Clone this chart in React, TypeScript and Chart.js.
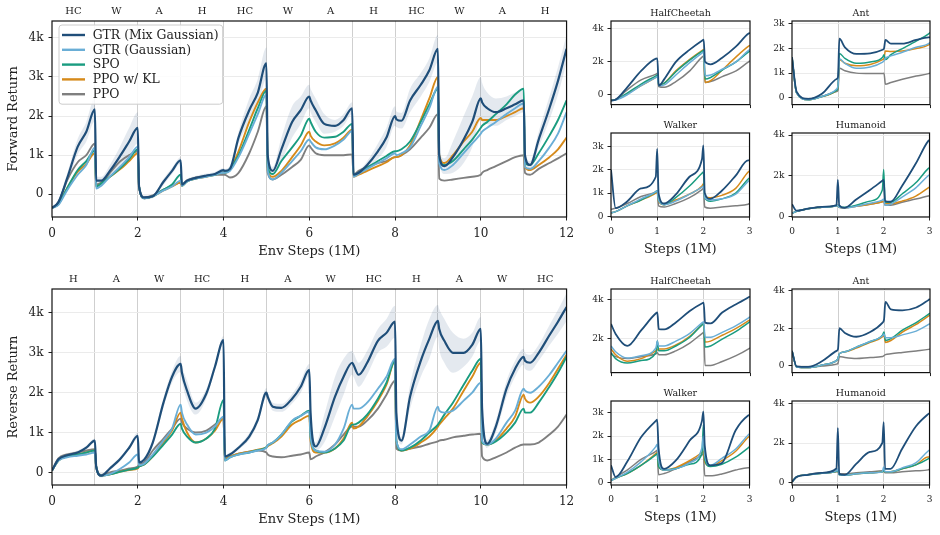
import React, { useEffect, useRef } from 'react';
import { Chart, registerables } from 'chart.js';

Chart.register(...registerables);

const FONT = "'DejaVu Serif', serif";
const INK = '#222222';

const SERIES_NAMES = ['GTR (Mix Gaussian)', 'GTR (Gaussian)', 'SPO', 'PPO w/ KL', 'PPO'];
const SERIES_COLORS = ['#1f4e79', '#6aaed6', '#1a9c80', '#d68a1a', '#7f7f7f'];
const MIX_BAND = 'rgba(31,78,121,0.12)';

const FWD_TASKS = ['HC', 'W', 'A', 'H', 'HC', 'W', 'A', 'H', 'HC', 'W', 'A', 'H'];
const REV_TASKS = ['H', 'A', 'W', 'HC', 'H', 'A', 'W', 'HC', 'H', 'A', 'W', 'HC'];

// Sample positions (millions of env steps) for the 12-task sequences
const LONG_X = [
  0, 0.15, 0.35, 0.6, 0.8, 1,
  1.03, 1.15, 1.35, 1.6, 1.8, 2,
  2.03, 2.15, 2.35, 2.6, 2.8, 3,
  3.03, 3.15, 3.35, 3.6, 3.8, 4,
  4.03, 4.15, 4.35, 4.6, 4.8, 5,
  5.03, 5.15, 5.35, 5.6, 5.8, 6,
  6.03, 6.15, 6.35, 6.6, 6.8, 7,
  7.03, 7.15, 7.35, 7.6, 7.8, 8,
  8.03, 8.15, 8.35, 8.6, 8.8, 9,
  9.03, 9.15, 9.35, 9.6, 9.8, 10,
  10.03, 10.15, 10.35, 10.6, 10.8, 11,
  11.03, 11.15, 11.35, 11.6, 11.8, 12,
];

// Sample positions for the 3-stage per-environment runs
const SHORT_X = [0, 0.1, 0.35, 0.65, 0.97, 1, 1.03, 1.15, 1.4, 1.7, 1.97, 2, 2.03, 2.15, 2.4, 2.7, 2.97, 3];

// ---- Forward sequence (returns in thousands) ----
const FWD_MIX = [
  -0.35, -0.2, 0.4, 1.22, 1.6, 2.17,
  0.35, 0.35, 0.6, 1.0, 1.35, 1.7,
  0.2, -0.08, -0.05, 0.32, 0.6, 0.87,
  0.25, 0.35, 0.42, 0.48, 0.52, 0.62,
  0.6, 0.65, 1.45, 2.15, 2.6, 3.35,
  1.0, 0.6, 1.15, 1.85, 2.15, 2.5,
  2.4, 2.15, 1.8, 1.75, 1.9, 2.2,
  0.5, 0.55, 0.75, 1.1, 1.45, 2.0,
  1.92, 1.88, 2.4, 2.8, 3.17, 3.72,
  1.0, 0.72, 0.95, 1.4, 1.85, 2.45,
  2.35, 2.2, 2.1, 2.2, 2.3, 2.4,
  1.0, 0.75, 1.4, 2.2, 2.9, 3.72,
];
const FWD_GAUSS = [
  -0.35, -0.27, 0.1, 0.5, 0.75, 1.2,
  0.15, 0.22, 0.45, 0.72, 0.95, 1.22,
  0.2, -0.1, -0.05, 0.1, 0.2, 0.35,
  0.22, 0.33, 0.4, 0.45, 0.5, 0.55,
  0.55, 0.6, 0.95, 1.55, 2.05, 2.55,
  0.6, 0.38, 0.55, 0.85, 1.1, 1.4,
  1.35, 1.2, 1.15, 1.25, 1.4, 1.62,
  0.45, 0.52, 0.65, 0.8, 0.92, 1.05,
  1.0, 1.05, 1.2, 1.75, 2.2, 2.75,
  0.8, 0.62, 0.75, 1.05, 1.3, 1.55,
  1.6, 1.7, 1.85, 2.05, 2.2, 2.32,
  0.7, 0.65, 0.85, 1.2, 1.55, 2.1,
];
const FWD_SPO = [
  -0.35, -0.25, 0.15, 0.62, 0.85, 1.12,
  0.2, 0.28, 0.45, 0.68, 0.9, 1.15,
  0.2, -0.1, -0.05, 0.12, 0.25, 0.5,
  0.22, 0.33, 0.4, 0.46, 0.5, 0.56,
  0.55, 0.65, 1.0, 1.65, 2.2, 2.65,
  0.7, 0.52, 0.85, 1.2, 1.5, 1.93,
  1.85, 1.6, 1.45, 1.47, 1.6, 1.8,
  0.48, 0.55, 0.68, 0.85, 0.98, 1.1,
  1.1, 1.15, 1.35, 1.85, 2.3, 2.7,
  0.9, 0.75, 0.85, 1.15, 1.4, 1.7,
  1.75, 1.85, 2.05, 2.3, 2.55, 2.7,
  0.8, 0.75, 1.05, 1.5, 1.9, 2.4,
];
const FWD_KL = [
  -0.35, -0.25, 0.15, 0.58, 0.78, 1.05,
  0.2, 0.28, 0.45, 0.65, 0.85, 1.05,
  0.2, -0.1, -0.05, 0.1, 0.2, 0.3,
  0.22, 0.33, 0.4, 0.45, 0.5, 0.55,
  0.55, 0.62, 1.1, 1.85, 2.35, 2.7,
  0.6, 0.45, 0.6, 0.95, 1.25, 1.6,
  1.5, 1.35, 1.25, 1.3, 1.45, 1.65,
  0.45, 0.5, 0.6, 0.72, 0.82, 0.95,
  0.95, 1.0, 1.25, 1.9, 2.45, 3.0,
  1.0, 0.8, 1.0, 1.35, 1.6, 1.95,
  1.9, 1.9, 1.9, 2.0, 2.1, 2.2,
  0.7, 0.62, 0.75, 0.95, 1.15, 1.45,
];
const FWD_PPO = [
  -0.35, -0.2, 0.35, 0.82, 1.0, 1.3,
  0.25, 0.3, 0.55, 0.85, 1.0, 1.1,
  0.2, -0.08, -0.03, 0.12, 0.22, 0.3,
  0.25, 0.36, 0.43, 0.47, 0.5, 0.5,
  0.5, 0.43, 0.55, 1.05, 1.6, 2.25,
  0.55, 0.38, 0.5, 0.7, 0.88, 1.25,
  1.2, 1.05, 1.0, 1.0, 1.0, 1.02,
  0.5, 0.6, 0.7, 0.8, 0.85, 0.95,
  0.95, 1.0, 1.15, 1.45, 1.7, 2.05,
  0.4, 0.35, 0.38, 0.42, 0.45, 0.5,
  0.55, 0.62, 0.72, 0.85, 0.95, 1.0,
  0.55, 0.5, 0.65, 0.8, 0.92, 1.05,
];
const FWD_MIX_SPREAD = [
  0.02, 0.05, 0.12, 0.2, 0.25, 0.3,
  0.1, 0.1, 0.15, 0.25, 0.35, 0.4,
  0.05, 0.05, 0.05, 0.08, 0.08, 0.08,
  0.05, 0.05, 0.05, 0.05, 0.05, 0.05,
  0.05, 0.08, 0.15, 0.3, 0.35, 0.4,
  0.15, 0.1, 0.3, 0.4, 0.35, 0.3,
  0.3, 0.3, 0.25, 0.15, 0.15, 0.15,
  0.05, 0.05, 0.1, 0.2, 0.25, 0.25,
  0.2, 0.2, 0.3, 0.3, 0.3, 0.35,
  0.15, 0.2, 0.4, 0.6, 0.65, 0.55,
  0.5, 0.4, 0.35, 0.3, 0.3, 0.3,
  0.1, 0.1, 0.2, 0.3, 0.35, 0.35,
];

// ---- Reverse sequence (returns in thousands) ----
const REV_MIX = [
  0.05, 0.33, 0.43, 0.5, 0.62, 0.8,
  0.15, -0.08, 0.1, 0.35, 0.62, 0.92,
  0.25, 0.32, 0.75, 1.75, 2.4, 2.72,
  2.5, 2.05, 1.6, 1.98, 2.65, 3.32,
  0.4, 0.45, 0.62, 0.9, 1.32, 2.0,
  1.9, 1.65, 1.62, 1.85, 2.15, 2.57,
  1.5, 0.65, 1.1, 1.9, 2.4, 2.75,
  2.7, 2.45, 2.75, 3.3, 3.5, 3.78,
  1.5, 0.8, 1.9, 2.8, 3.35, 3.8,
  3.6, 3.3, 3.0, 3.0, 3.2, 3.6,
  1.6, 0.72, 1.15, 2.1, 2.6, 2.9,
  2.8, 2.75, 3.0, 3.44, 3.78, 4.15,
];
const REV_GAUSS = [
  0.05, 0.3, 0.38, 0.42, 0.45, 0.5,
  0.15, -0.08, -0.04, 0.1, 0.25, 0.45,
  0.18, 0.22, 0.45, 0.8, 1.1, 1.7,
  1.5, 1.2, 0.95, 1.0, 1.15, 1.4,
  0.3, 0.38, 0.45, 0.5, 0.55, 0.62,
  0.68, 0.75, 0.95, 1.3, 1.42, 1.52,
  0.9, 0.55, 0.52, 0.7, 1.1, 1.7,
  1.6, 1.6, 1.75, 2.1, 2.4, 2.85,
  0.8, 0.58, 0.7, 0.9, 1.05, 1.65,
  1.55, 1.5, 1.55, 1.8, 2.0, 2.25,
  0.8, 0.7, 0.85, 1.25, 1.55, 2.1,
  2.05, 2.0, 2.15, 2.45, 2.75, 3.05,
];
const REV_SPO = [
  0.05, 0.3, 0.4, 0.45, 0.5, 0.55,
  0.15, -0.08, -0.05, 0.02, 0.07, 0.12,
  0.15, 0.2, 0.4, 0.7, 0.95, 1.22,
  1.1, 0.9, 0.75, 0.85, 1.1, 1.82,
  0.3, 0.38, 0.45, 0.5, 0.56, 0.63,
  0.68, 0.75, 0.95, 1.28, 1.42, 1.55,
  0.9, 0.55, 0.5, 0.6, 0.8, 1.2,
  1.2, 1.25, 1.45, 1.85, 2.25, 2.8,
  0.8, 0.55, 0.62, 0.8, 1.0, 1.2,
  1.25, 1.45, 1.75, 2.2, 2.55, 2.85,
  0.75, 0.7, 0.78, 1.0, 1.25, 1.6,
  1.5, 1.5, 1.75, 2.15, 2.5, 2.9,
];
const REV_KL = [
  0.05, 0.3, 0.4, 0.45, 0.5, 0.55,
  0.15, -0.08, -0.05, 0.02, 0.06, 0.1,
  0.15, 0.2, 0.4, 0.75, 1.05, 1.5,
  1.35, 1.0, 0.75, 0.85, 1.05, 1.35,
  0.33, 0.4, 0.47, 0.52, 0.57, 0.63,
  0.66, 0.73, 0.9, 1.2, 1.32, 1.42,
  0.8, 0.5, 0.5, 0.6, 0.85, 1.25,
  1.1, 1.15, 1.4, 1.8, 2.2, 2.8,
  0.8, 0.55, 0.6, 0.75, 0.9, 1.15,
  1.2, 1.35, 1.6, 2.05, 2.4, 2.75,
  0.75, 0.7, 0.8, 1.1, 1.4, 1.95,
  1.85, 1.75, 1.9, 2.25, 2.6, 2.95,
];
const REV_PPO = [
  0.05, 0.35, 0.45, 0.5, 0.55, 0.58,
  0.15, -0.06, 0.0, 0.05, 0.1, 0.15,
  0.2, 0.25, 0.55, 0.85, 1.1, 1.35,
  1.25, 1.1, 1.0, 1.05, 1.2, 1.35,
  0.35, 0.4, 0.47, 0.52, 0.55, 0.5,
  0.45, 0.4, 0.38, 0.42, 0.45, 0.5,
  0.33, 0.4, 0.5, 0.7, 0.95, 1.15,
  1.15, 1.15, 1.3, 1.6, 1.95, 2.3,
  0.6, 0.55, 0.6, 0.65, 0.72, 0.78,
  0.8, 0.82, 0.88, 0.92, 0.95, 0.97,
  0.4, 0.3, 0.38, 0.5, 0.62, 0.7,
  0.7, 0.7, 0.75, 0.95, 1.15, 1.45,
];
const REV_MIX_SPREAD = [
  0.02, 0.05, 0.05, 0.05, 0.05, 0.05,
  0.05, 0.05, 0.05, 0.05, 0.05, 0.08,
  0.05, 0.05, 0.08, 0.12, 0.15, 0.2,
  0.2, 0.25, 0.15, 0.12, 0.08, 0.1,
  0.05, 0.05, 0.05, 0.08, 0.1, 0.12,
  0.1, 0.1, 0.1, 0.12, 0.15, 0.15,
  0.15, 0.1, 0.35, 0.5, 0.45, 0.3,
  0.3, 0.3, 0.3, 0.3, 0.35, 0.4,
  0.2, 0.1, 0.3, 0.4, 0.5, 0.4,
  0.5, 0.55, 0.5, 0.35, 0.3, 0.3,
  0.2, 0.1, 0.15, 0.2, 0.2, 0.2,
  0.2, 0.2, 0.2, 0.25, 0.3, 0.35,
];

// ---- Per-environment forward runs ----
const HC_FWD = [
  [-0.35, -0.3, 0.45, 1.45, 2.19, 2.2, 0.55, 0.95, 2.0, 2.74, 3.3, 3.35, 2.0, 1.85, 2.25, 2.94, 3.72, 3.75],
  [-0.35, -0.32, 0.0, 0.55, 1.05, 1.1, 0.55, 0.6, 1.2, 1.95, 2.55, 2.6, 1.15, 1.2, 1.55, 2.0, 2.7, 2.74],
  [-0.35, -0.3, 0.1, 0.65, 1.15, 1.2, 0.6, 0.7, 1.4, 2.1, 2.65, 2.7, 0.95, 1.05, 1.5, 2.0, 2.6, 2.65],
  [-0.35, -0.3, 0.05, 0.55, 1.05, 1.1, 0.55, 0.7, 1.45, 2.15, 2.7, 2.75, 0.75, 0.85, 1.5, 2.3, 2.95, 3.0],
  [-0.35, -0.28, 0.3, 0.9, 1.25, 1.3, 0.5, 0.45, 0.8, 1.45, 2.3, 2.35, 0.75, 0.8, 1.1, 1.45, 2.0, 2.05],
];
const ANT_FWD = [
  [1.65, 0.25, -0.05, 0.16, 0.76, 0.85, 2.4, 2.05, 1.78, 1.8, 1.95, 2.0, 2.35, 2.2, 2.2, 2.35, 2.45, 2.45],
  [1.65, 0.2, -0.08, 0.05, 0.35, 0.5, 1.58, 1.4, 1.2, 1.25, 1.45, 1.5, 1.6, 1.7, 1.85, 2.05, 2.2, 2.25],
  [1.65, 0.2, -0.08, 0.05, 0.3, 0.45, 1.8, 1.6, 1.4, 1.45, 1.65, 1.75, 1.55, 1.75, 2.0, 2.3, 2.6, 2.65],
  [1.65, 0.2, -0.08, 0.05, 0.3, 0.45, 1.55, 1.4, 1.3, 1.35, 1.55, 1.6, 1.9, 1.88, 1.9, 2.0, 2.15, 2.2],
  [1.65, 0.2, -0.06, 0.05, 0.25, 0.3, 1.2, 1.1, 1.0, 0.98, 0.98, 1.0, 0.55, 0.62, 0.75, 0.88, 0.98, 1.0],
];
const WALKER_FWD = [
  [2.0, 0.35, 0.64, 1.2, 1.7, 2.9, 1.0, 0.55, 0.93, 1.7, 2.45, 3.05, 1.0, 0.75, 1.1, 1.75, 2.4, 2.4],
  [0.15, 0.2, 0.45, 0.75, 1.05, 1.1, 0.7, 0.5, 0.65, 0.95, 1.25, 1.3, 0.8, 0.7, 0.75, 0.95, 1.5, 1.55],
  [0.15, 0.2, 0.45, 0.7, 1.05, 1.1, 0.7, 0.5, 0.8, 1.3, 1.85, 1.9, 0.8, 0.65, 0.75, 1.0, 1.6, 1.65],
  [0.15, 0.2, 0.45, 0.7, 1.0, 1.05, 0.65, 0.5, 0.7, 0.95, 1.3, 1.4, 0.85, 0.8, 0.9, 1.2, 1.9, 1.95],
  [0.3, 0.35, 0.55, 0.85, 1.05, 1.1, 0.45, 0.4, 0.55, 0.8, 1.15, 1.2, 0.4, 0.35, 0.4, 0.45, 0.52, 0.55],
];
const HUM_FWD = [
  [0.6, 0.28, 0.38, 0.47, 0.55, 1.8, 0.55, 0.42, 0.83, 1.3, 1.75, 1.8, 0.75, 0.72, 1.5, 2.6, 3.7, 3.75],
  [0.15, 0.25, 0.38, 0.45, 0.52, 0.55, 0.45, 0.42, 0.5, 0.65, 0.8, 0.85, 0.55, 0.6, 0.95, 1.4, 2.0, 2.05],
  [0.15, 0.25, 0.38, 0.45, 0.52, 0.55, 0.45, 0.45, 0.55, 0.75, 1.3, 2.3, 0.7, 0.7, 1.1, 1.65, 2.35, 2.4],
  [0.15, 0.25, 0.38, 0.45, 0.52, 0.55, 0.45, 0.42, 0.5, 0.6, 0.72, 0.75, 0.65, 0.62, 0.75, 1.0, 1.4, 1.45],
  [0.15, 0.25, 0.38, 0.45, 0.52, 0.55, 0.45, 0.42, 0.5, 0.6, 0.72, 0.75, 0.55, 0.55, 0.7, 0.85, 1.0, 1.02],
];

// ---- Per-environment reverse runs ----
const HC_REV = [
  [2.73, 2.22, 1.6, 2.4, 3.28, 3.32, 2.47, 2.45, 2.81, 3.4, 3.8, 3.83, 2.8, 2.76, 3.32, 3.75, 4.1, 4.15],
  [1.6, 1.3, 0.98, 1.1, 1.5, 1.85, 1.6, 1.6, 1.85, 2.25, 2.8, 2.85, 2.05, 2.05, 2.3, 2.65, 3.05, 3.1],
  [1.25, 0.95, 0.72, 0.85, 1.25, 1.85, 1.35, 1.35, 1.6, 2.05, 2.7, 2.75, 1.55, 1.6, 1.95, 2.35, 2.8, 2.85],
  [1.45, 1.15, 0.82, 0.95, 1.35, 1.4, 1.45, 1.45, 1.65, 2.1, 2.7, 2.75, 1.8, 1.85, 2.15, 2.5, 2.9, 2.95],
  [1.2, 1.05, 0.95, 1.05, 1.2, 1.25, 1.15, 1.15, 1.35, 1.75, 2.25, 2.3, 0.6, 0.6, 0.8, 1.1, 1.45, 1.5],
];
const ANT_REV = [
  [0.8, -0.02, -0.05, 0.25, 0.8, 0.9, 2.0, 1.75, 1.55, 1.8, 2.3, 2.45, 3.4, 3.0, 2.95, 3.1, 3.5, 3.55],
  [0.8, -0.05, -0.08, 0.05, 0.3, 0.4, 0.65, 0.75, 1.0, 1.3, 1.6, 1.7, 1.5, 1.5, 1.65, 1.85, 2.2, 2.25],
  [0.8, -0.05, -0.08, 0.05, 0.3, 0.4, 0.65, 0.75, 1.0, 1.3, 1.65, 1.8, 1.35, 1.45, 1.9, 2.3, 2.75, 2.8],
  [0.8, -0.05, -0.08, 0.05, 0.3, 0.4, 0.65, 0.75, 0.95, 1.25, 1.55, 1.65, 1.25, 1.35, 1.8, 2.2, 2.65, 2.7],
  [0.8, -0.05, -0.08, 0.0, 0.1, 0.15, 0.5, 0.45, 0.4, 0.45, 0.5, 0.55, 0.6, 0.65, 0.72, 0.8, 0.88, 0.9],
];
const WALKER_REV = [
  [0.75, 0.25, 0.9, 1.95, 2.65, 2.7, 1.5, 0.6, 0.95, 1.8, 2.65, 3.05, 1.6, 0.75, 0.85, 2.25, 2.88, 2.9],
  [0.1, 0.2, 0.45, 0.9, 1.55, 1.65, 1.0, 0.55, 0.6, 0.85, 1.5, 2.0, 1.2, 0.75, 1.05, 1.45, 2.05, 2.1],
  [0.1, 0.2, 0.4, 0.75, 1.2, 1.25, 0.7, 0.55, 0.6, 0.8, 1.25, 2.5, 1.0, 0.7, 0.8, 1.1, 1.5, 1.55],
  [0.1, 0.2, 0.4, 0.75, 1.25, 1.3, 0.7, 0.55, 0.65, 0.95, 1.3, 1.35, 0.9, 0.72, 0.95, 1.35, 1.95, 2.0],
  [0.1, 0.25, 0.55, 1.0, 1.35, 1.4, 0.35, 0.4, 0.6, 0.9, 1.2, 1.25, 0.3, 0.3, 0.38, 0.55, 0.65, 0.65],
];
const HUM_REV = [
  [0.05, 0.3, 0.4, 0.5, 0.72, 2.75, 0.45, 0.4, 0.95, 1.55, 2.0, 3.05, 0.7, 0.7, 1.7, 2.83, 3.45, 3.5],
  [0.05, 0.3, 0.4, 0.48, 0.6, 0.7, 0.4, 0.38, 0.45, 0.5, 0.55, 0.8, 0.55, 0.55, 0.75, 1.0, 1.6, 1.65],
  [0.05, 0.3, 0.4, 0.48, 0.58, 0.62, 0.4, 0.38, 0.45, 0.5, 0.55, 0.6, 0.55, 0.55, 0.7, 0.9, 1.2, 1.25],
  [0.05, 0.3, 0.4, 0.48, 0.58, 0.62, 0.4, 0.38, 0.45, 0.5, 0.55, 0.6, 0.55, 0.55, 0.7, 0.9, 1.3, 1.3],
  [0.05, 0.3, 0.42, 0.5, 0.55, 0.6, 0.45, 0.45, 0.5, 0.55, 0.6, 0.6, 0.5, 0.5, 0.55, 0.6, 0.65, 0.68],
];

type Area = { left: number; top: number; right: number; bottom: number };

type PanelProps = {
  area: Area;
  xs: number[];
  ys: number[][];
  spread?: number[];
  xMax: number;
  yMin: number;
  yMax: number;
  yStep: number;
  big?: boolean;
  tasks?: string[];
  title?: string;
  yTitle?: string;
  xTitle?: string;
  xLabels?: boolean;
  legend?: boolean;
};

const fmtK = (v: number) => {
  const n = Math.round(v * 100) / 100;
  return n === 0 ? '0' : `${n}k`;
};

// Black box around the plotting area
const framePlugin = {
  id: 'frame',
  afterDatasetsDraw(chart: any) {
    const { ctx, chartArea: a } = chart;
    ctx.save();
    ctx.strokeStyle = '#111111';
    ctx.lineWidth = 1.2;
    ctx.strokeRect(a.left, a.top, a.right - a.left, a.bottom - a.top);
    ctx.restore();
  },
};

function makeLegendPlugin(show: boolean) {
  return {
    id: 'boxedLegend',
    afterDraw(chart: any) {
      if (!show) return;
      const { ctx, chartArea: a } = chart;
      const items = chart.data.datasets.filter((d: any) => SERIES_NAMES.includes(d.label));
      ctx.save();
      ctx.font = `12.4px ${FONT}`;
      const textW = Math.max(...items.map((d: any) => ctx.measureText(d.label).width));
      const x0 = a.left + 7;
      const y0 = a.top + 4;
      const rowH = 14.8;
      const w = 33.7 + textW + 4;
      const h = 10 + rowH * (items.length - 1) + 10;
      ctx.beginPath();
      ctx.roundRect(x0, y0, w, h, 3);
      ctx.fillStyle = 'rgba(255,255,255,0.85)';
      ctx.fill();
      ctx.strokeStyle = '#cccccc';
      ctx.lineWidth = 1;
      ctx.stroke();
      items.forEach((d: any, i: number) => {
        const cy = y0 + 10 + i * rowH;
        ctx.beginPath();
        ctx.moveTo(x0 + 3, cy);
        ctx.lineTo(x0 + 26, cy);
        ctx.strokeStyle = d.borderColor;
        ctx.lineWidth = 2.4;
        ctx.stroke();
        ctx.fillStyle = INK;
        ctx.textBaseline = 'middle';
        ctx.textAlign = 'left';
        ctx.fillText(d.label, x0 + 33.7, cy + 0.5);
      });
      ctx.restore();
    },
  };
}

function Panel(p: PanelProps) {
  const ref = useRef<HTMLCanvasElement | null>(null);
  const big = !!p.big;
  const ML = big ? p.area.left : 32;
  const MT = big ? 21 : 20;
  const MR = big ? 12 : 8;
  const MB = big ? 45 : p.xLabels ? 42 : 8;
  const W = p.area.right - p.area.left + ML + MR;
  const H = p.area.bottom - p.area.top + MT + MB;

  useEffect(() => {
    const canvas = ref.current;
    if (!canvas) return;
    const datasets: any[] = p.ys.map((vals, i) => ({
      label: SERIES_NAMES[i],
      data: p.xs.map((x, j) => ({ x, y: vals[j] })),
      borderColor: SERIES_COLORS[i],
      backgroundColor: SERIES_COLORS[i],
      borderWidth: big ? (i === 0 ? 2.2 : 1.9) : i === 0 ? 1.8 : 1.5,
      pointRadius: 0,
      fill: false,
      cubicInterpolationMode: 'monotone',
    }));
    if (p.spread) {
      const mix = p.ys[0];
      datasets.push({
        label: 'mix-upper',
        data: p.xs.map((x, j) => ({ x, y: mix[j] + p.spread![j] })),
        borderWidth: 0,
        pointRadius: 0,
        fill: false,
        cubicInterpolationMode: 'monotone',
      });
      datasets.push({
        label: 'mix-lower',
        data: p.xs.map((x, j) => ({ x, y: mix[j] - p.spread![j] })),
        borderWidth: 0,
        pointRadius: 0,
        fill: '-1',
        backgroundColor: MIX_BAND,
        cubicInterpolationMode: 'monotone',
      });
    }

    const tickFont = { family: FONT, size: big ? 12 : 9 };
    const titleFont = { family: FONT, size: 13 };
    const tasks = p.tasks || [];

    const chart = new Chart(canvas, {
      type: 'line',
      data: { datasets },
      plugins: [framePlugin, makeLegendPlugin(!!p.legend)],
      options: {
        responsive: false,
        animation: false,
        devicePixelRatio: 1,
        layout: { padding: { left: 0, top: 0, right: MR, bottom: 0 } },
        plugins: {
          legend: { display: false },
          tooltip: { enabled: false },
          title: { display: false },
        },
        scales: {
          x: {
            type: 'linear',
            position: 'bottom',
            min: 0,
            max: p.xMax,
            afterFit: (s: any) => {
              s.height = MB;
            },
            border: { display: false },
            grid: {
              color: (c: any) =>
                c.tick && c.tick.value > 0 && c.tick.value < p.xMax ? '#cfcfcf' : 'rgba(0,0,0,0)',
              lineWidth: 1,
              drawTicks: true,
              tickLength: 3.5,
              tickWidth: 1,
              tickColor: (c: any) =>
                big && c.tick && c.tick.value % 2 !== 0 ? 'rgba(0,0,0,0)' : INK,
            },
            ticks: {
              display: big || !!p.xLabels,
              stepSize: 1,
              autoSkip: false,
              maxRotation: 0,
              padding: big ? 5.8 : 5.6,
              color: INK,
              font: tickFont,
              callback: (v: any) => {
                const n = Number(v);
                if (big) return n % 2 === 0 ? String(n) : '';
                return String(n);
              },
            },
            title: {
              display: !!p.xTitle,
              text: p.xTitle || '',
              color: INK,
              font: titleFont,
              padding: { top: 0, bottom: big ? 2.7 : 1.4 },
            },
          },
          top: {
            type: 'linear',
            position: 'top',
            min: 0,
            max: p.xMax,
            afterFit: (s: any) => {
              s.height = MT;
            },
            afterBuildTicks: (s: any) => {
              if (tasks.length) s.ticks = tasks.map((_, i) => ({ value: i + 0.5 }));
            },
            border: { display: false },
            grid: { display: false, drawTicks: false },
            ticks: {
              display: tasks.length > 0,
              autoSkip: false,
              maxRotation: 0,
              padding: 4,
              color: INK,
              font: { family: FONT, size: 10 },
              callback: (_v: any, i: number) => tasks[i] || '',
            },
            title: {
              display: !!p.title,
              text: p.title || '',
              color: INK,
              font: { family: FONT, size: 9.5 },
              padding: { top: 7.3, bottom: 0 },
            },
          },
          y: {
            type: 'linear',
            position: 'left',
            min: p.yMin,
            max: p.yMax,
            afterFit: (s: any) => {
              s.width = ML;
            },
            border: { display: false },
            grid: {
              color: '#ebebeb',
              lineWidth: 1,
              drawTicks: true,
              tickLength: 3.5,
              tickWidth: 1,
              tickColor: INK,
            },
            ticks: {
              stepSize: p.yStep,
              includeBounds: false,
              padding: big ? 5 : 4,
              color: INK,
              font: tickFont,
              callback: (v: any) => fmtK(Number(v)),
            },
            title: {
              display: !!p.yTitle,
              text: p.yTitle || '',
              color: INK,
              font: titleFont,
              padding: { top: 6.2, bottom: 0 },
            },
          },
        },
      } as any,
    });
    return () => chart.destroy();
  }, []);

  return (
    <canvas
      ref={ref}
      width={W}
      height={H}
      style={{ position: 'absolute', left: p.area.left - ML, top: p.area.top - MT, width: W, height: H }}
    />
  );
}

const COL1 = { left: 611, right: 750 };
const COL2 = { left: 792, right: 930 };
const ROW1 = { top: 21, bottom: 106 };
const ROW2 = { top: 133, bottom: 217 };
const ROW3 = { top: 289, bottom: 374 };
const ROW4 = { top: 401, bottom: 485 };

export default function App() {
  return (
    <div
      style={{
        position: 'fixed',
        left: 0,
        top: 0,
        width: 940,
        height: 535,
        background: '#ffffff',
        overflow: 'hidden',
      }}
    >
      <Panel
        big
        legend
        area={{ left: 52, top: 21, right: 568, bottom: 217 }}
        xs={LONG_X}
        ys={[FWD_MIX, FWD_GAUSS, FWD_SPO, FWD_KL, FWD_PPO]}
        spread={FWD_MIX_SPREAD}
        xMax={12}
        yMin={-0.58}
        yMax={4.43}
        yStep={1}
        tasks={FWD_TASKS}
        yTitle="Forward Return"
        xTitle="Env Steps (1M)"
      />
      <Panel
        big
        area={{ left: 52, top: 289, right: 568, bottom: 485 }}
        xs={LONG_X}
        ys={[REV_MIX, REV_GAUSS, REV_SPO, REV_KL, REV_PPO]}
        spread={REV_MIX_SPREAD}
        xMax={12}
        yMin={-0.315}
        yMax={4.6}
        yStep={1}
        tasks={REV_TASKS}
        yTitle="Reverse Return"
        xTitle="Env Steps (1M)"
      />

      <Panel area={{ ...COL1, ...ROW1 }} xs={SHORT_X} ys={HC_FWD} xMax={3} yMin={-0.6} yMax={4.48} yStep={2} title="HalfCheetah" />
      <Panel area={{ ...COL2, ...ROW1 }} xs={SHORT_X} ys={ANT_FWD} xMax={3} yMin={-0.28} yMax={3.12} yStep={1} title="Ant" />
      <Panel area={{ ...COL1, ...ROW2 }} xs={SHORT_X} ys={WALKER_FWD} xMax={3} yMin={-0.03} yMax={3.58} yStep={1} title="Walker" xLabels xTitle="Steps (1M)" />
      <Panel area={{ ...COL2, ...ROW2 }} xs={SHORT_X} ys={HUM_FWD} xMax={3} yMin={-0.03} yMax={4.1} yStep={2} title="Humanoid" xLabels xTitle="Steps (1M)" />

      <Panel area={{ ...COL1, ...ROW3 }} xs={SHORT_X} ys={HC_REV} xMax={3} yMin={0.23} yMax={4.53} yStep={2} title="HalfCheetah" />
      <Panel area={{ ...COL2, ...ROW3 }} xs={SHORT_X} ys={ANT_REV} xMax={3} yMin={-0.35} yMax={4.08} yStep={2} title="Ant" />
      <Panel area={{ ...COL1, ...ROW4 }} xs={SHORT_X} ys={WALKER_REV} xMax={3} yMin={-0.09} yMax={3.5} yStep={1} title="Walker" xLabels xTitle="Steps (1M)" />
      <Panel area={{ ...COL2, ...ROW4 }} xs={SHORT_X} ys={HUM_REV} xMax={3} yMin={-0.11} yMax={4.11} yStep={2} title="Humanoid" xLabels xTitle="Steps (1M)" />
    </div>
  );
}
